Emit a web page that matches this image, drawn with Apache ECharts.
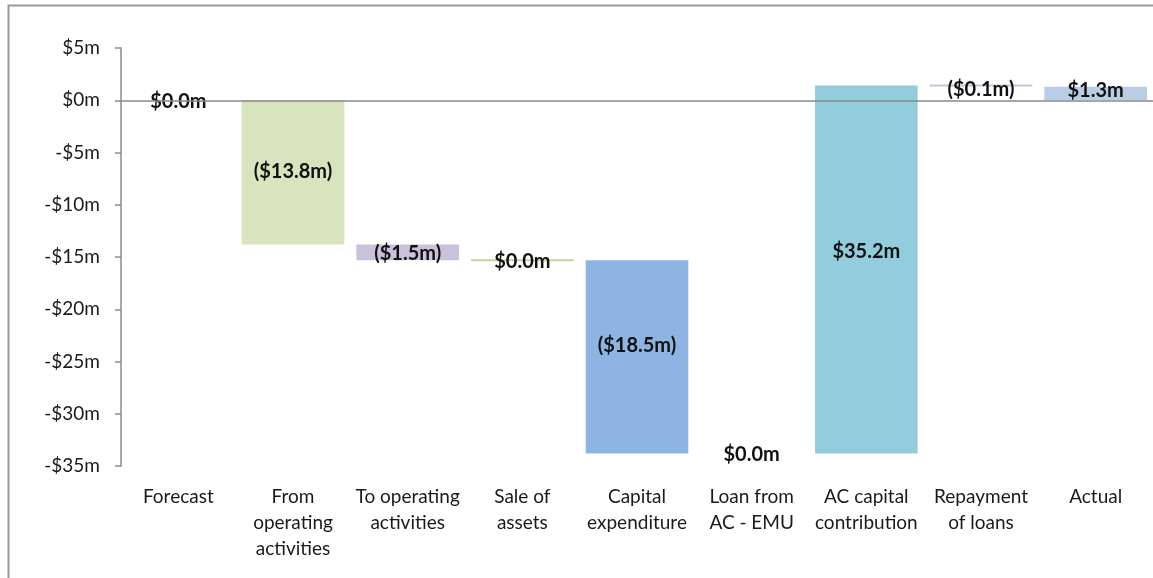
<!DOCTYPE html>
<html>
<head>
<meta charset="utf-8">
<script src="https://cdn.jsdelivr.net/npm/echarts@6/dist/echarts.min.js"></script>
<style>
  html, body { margin: 0; padding: 0; background: #fff; }
  #chart { width: 1153px; height: 578px; }
</style>
</head>
<body>
<div id="chart"></div>
<script>
// categories and changes ($m); first and last are totals
var categories = ['Forecast', 'From\noperating\nactivities', 'To operating\nactivities', 'Sale of\nassets',
    'Capital\nexpenditure', 'Loan from\nAC - EMU', 'AC capital\ncontribution', 'Repayment\nof loans', 'Actual'];
var changes = [0.0, -13.8, -1.5, 0.0, -18.5, 0.0, 35.2, -0.1, 1.3];
var isTotal = [true, false, false, false, false, false, false, false, true];
var yTicks = [5, 0, -5, -10, -15, -20, -25, -30, -35];

var barColors = ['none', '#D7E4BD', '#CCC1DA', '#C3D69B', '#8EB4E3', 'none', '#93CDDD', '#CCC1DA', '#B9CDE5'];
// small label nudges (px) to sit like the original
var labelShift = [0, -2, 0, 0, -12, 0, -19, 2, -4];

// running start / end for each bar
var rows = [];
var run = 0;
for (var i = 0; i < changes.length; i++) {
    var start = isTotal[i] ? 0 : run;
    var end = isTotal[i] ? changes[i] : run + changes[i];
    run = end;
    rows.push([i, start, end, changes[i]]);
}

function money(v) {
    var s = '$' + Math.abs(v).toFixed(1) + 'm';
    return v < 0 ? '(' + s + ')' : s;
}

var fontName = 'Lato, "Open Sans", sans-serif';
var myChart = echarts.init(document.getElementById('chart'));

var option = {
    animation: false,
    textStyle: { fontFamily: fontName },
    graphic: [{
        type: 'rect',
        shape: { x: 8.5, y: 5.5, width: 1200, height: 620 },
        style: { fill: 'none', stroke: '#9a9a9a', lineWidth: 2 },
        silent: true
    }],
    grid: { left: 121, right: -3, top: 48, bottom: 112 },
    xAxis: {
        type: 'category',
        data: categories,
        axisLine: { show: false },
        axisTick: { show: false },
        axisLabel: {
            interval: 0,
            margin: 18,
            color: '#1a1a1a',
            fontSize: 19,
            lineHeight: 26
        }
    },
    yAxis: {
        type: 'value',
        min: -35,
        max: 5,
        interval: 5,
        splitLine: { show: false },
        axisLine: { show: true, lineStyle: { color: '#8a8a8a', width: 1.5 } },
        axisTick: { show: true, length: 6, lineStyle: { color: '#8a8a8a', width: 1.5 } },
        axisLabel: {
            margin: 21,
            color: '#1a1a1a',
            fontSize: 19,
            formatter: function (v) {
                return yTicks.indexOf(v) < 0 ? '' : (v < 0 ? '-$' + Math.abs(v) + 'm' : '$' + v + 'm');
            }
        }
    },
    series: [{
        type: 'custom',
        data: rows,
        encode: { x: 0, y: [1, 2] },
        renderItem: function (params, api) {
            var idx = api.value(0);
            var p1 = api.coord([idx, api.value(1)]);
            var p2 = api.coord([idx, api.value(2)]);
            var w = api.size([1, 0])[0] * 0.895;
            var top = Math.min(p1[1], p2[1]);
            var h = Math.abs(p1[1] - p2[1]);
            var color = barColors[idx];
            if (color !== 'none' && h < 2) { top = top - 1; h = 2; }
            var mid = (p1[1] + p2[1]) / 2;
            return {
                type: 'group',
                children: [{
                    type: 'rect',
                    shape: { x: p1[0] - w / 2, y: top, width: w, height: h },
                    style: { fill: color }
                }, {
                    type: 'text',
                    z2: 10,
                    style: {
                        x: p1[0],
                        y: mid + 1 + labelShift[idx],
                        text: money(api.value(3)),
                        align: 'center',
                        verticalAlign: 'middle',
                        fontSize: 20,
                        fontWeight: 'bold',
                        fontFamily: fontName,
                        fill: '#111'
                    }
                }]
            };
        },
        z: 2
    }, {
        type: 'line',
        data: [],
        markLine: {
            silent: true,
            symbol: 'none',
            label: { show: false },
            lineStyle: { color: '#8a8a8a', width: 1.5, type: 'solid' },
            data: [{ yAxis: 0 }]
        },
        z: 3
    }]
};

if (option && typeof option === "object") {
    myChart.setOption(option, true);
}
</script>
</body>
</html>
